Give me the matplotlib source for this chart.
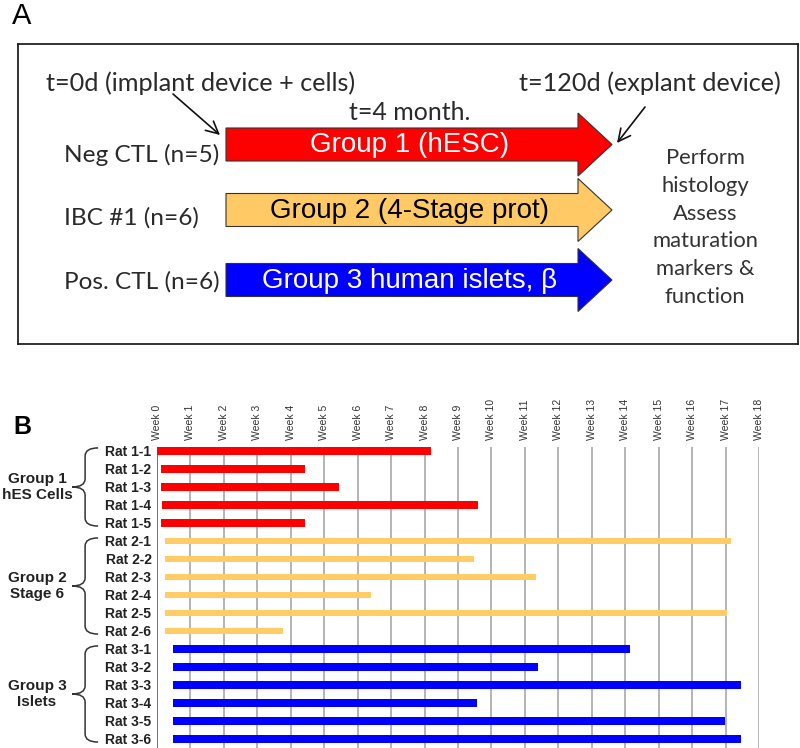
import numpy as np
import matplotlib
matplotlib.use("Agg")
import matplotlib.pyplot as plt
from matplotlib.patches import FancyArrow, PathPatch
from matplotlib.path import Path

plt.rcParams['font.family'] = ['Liberation Sans', 'DejaVu Sans']

# ---- panel A data ----
stage_labels = ['Neg CTL (n=5)', 'IBC #1 (n=6)', 'Pos. CTL (n=6)']
stage_groups = ['Group 1 (hESC)', 'Group 2 (4-Stage prot)', 'Group 3 human islets, \u03b2']
stage_colors = ['#FF0000', '#FFC966', '#0000FF']
stage_text_colors = ['white', 'black', 'white']
outcome_lines = ['Perform', 'histology', 'Assess', 'maturation', 'markers &', 'function']

# ---- panel B data ----
weeks = list(range(19))
week_labels = [f"Week {w}" for w in weeks]
rats = ['Rat 1-1', 'Rat 1-2', 'Rat 1-3', 'Rat 1-4', 'Rat 1-5',
        'Rat 2-1', 'Rat 2-2', 'Rat 2-3', 'Rat 2-4', 'Rat 2-5', 'Rat 2-6',
        'Rat 3-1', 'Rat 3-2', 'Rat 3-3', 'Rat 3-4', 'Rat 3-5', 'Rat 3-6']
g1_start = [0.0, 0.12, 0.12, 0.15, 0.12]
g1_end = [8.2, 4.42, 5.43, 9.6, 4.42]
g2_start = [0.23, 0.23, 0.23, 0.23, 0.23, 0.23]
g2_end = [17.15, 9.49, 11.33, 6.41, 17.05, 3.77]
g3_start = [0.47, 0.47, 0.47, 0.47, 0.47, 0.47]
g3_end = [14.15, 11.39, 17.45, 9.58, 16.99, 17.45]
group_names = ['Group 1\nhES Cells', 'Group 2\nStage 6', 'Group 3\nIslets']
group_colors = ['#FF0000', '#FFCC66', '#0000FF']

W, H = 800, 748
fig = plt.figure(figsize=(W / 100, H / 100), dpi=100)

# ---------------- panel A ----------------
ax_a = fig.add_axes([18 / W, 1 - 344 / H, 780 / W, 300 / H])
ax_a.set_xlim(18, 798)
ax_a.set_ylim(344, 44)
ax_a.set_xticks([])
ax_a.set_yticks([])
for s in ax_a.spines.values():
    s.set_linewidth(1.3)
    s.set_color('#222222')

calibri = 'Lato'
txt_color = '#2a2a2a'

arrow_y = [144.5, 210, 280]
label_y = [155, 218, 282]
for i in range(3):
    y = arrow_y[i]
    arr = FancyArrow(226, y, 386, 0, width=33, head_width=63, head_length=34,
                     length_includes_head=True, facecolor=stage_colors[i],
                     edgecolor='#333333', linewidth=0.8)
    ax_a.add_patch(arr)
    ax_a.text(410, y + 1, stage_groups[i], color=stage_text_colors[i],
              fontsize=20, ha='center', va='center')
    ax_a.text(64, label_y[i], stage_labels[i], color=txt_color, family=calibri,
              fontsize=17.6, ha='left', va='center')

ax_a.text(201, 83, 't=0d (implant device + cells)', family=calibri,
          color=txt_color, fontsize=18.2, ha='center', va='center')
ax_a.text(650, 83, 't=120d (explant device)', family=calibri,
          color=txt_color, fontsize=18.2, ha='center', va='center')
ax_a.text(410, 113, 't=4 month.', family=calibri,
          color=txt_color, fontsize=18, ha='center', va='center')

ax_a.annotate('', xy=(220, 135), xytext=(173, 94),
              arrowprops=dict(arrowstyle='->', lw=1.2, color='#111111',
                              mutation_scale=22, shrinkA=0, shrinkB=0))
ax_a.annotate('', xy=(617, 143), xytext=(645, 107),
              arrowprops=dict(arrowstyle='->', lw=1.2, color='#111111',
                              mutation_scale=22, shrinkA=0, shrinkB=0))

for k, line in enumerate(outcome_lines):
    ax_a.text(705, 158 + 27.8 * k, line, family=calibri, color='#333333',
              fontsize=15.8, ha='center', va='center')

fig.text(12 / W, 1 - 24 / H, 'A', fontsize=21, ha='left', va='baseline')
fig.text(13 / W, 1 - 434 / H, 'B', fontsize=18, fontweight='bold',
         ha='left', va='baseline')

# ---------------- panel B ----------------
ax_b = fig.add_axes([157 / W, 0, 602 / W, 301 / H])
ax_b.set_xlim(0, 18)
ax_b.set_ylim(16.5, -0.222)
for s in ax_b.spines.values():
    s.set_visible(False)

for w in weeks:
    ax_b.axvline(w, color='#555555' if w == 0 else '#A8A8A8',
                 lw=1.2, zorder=1)

ax_b.xaxis.tick_top()
ax_b.set_xticks(weeks)
ax_b.set_xticklabels(week_labels, rotation=90, fontsize=7.5, color='#333333')
ax_b.tick_params(axis='x', length=0, pad=5)

rows = np.arange(len(rats))
ax_b.set_yticks(rows)
ax_b.set_yticklabels(rats, fontsize=10, fontweight='bold', color='#222222')
ax_b.tick_params(axis='y', length=0, pad=4)

starts = [g1_start, g2_start, g3_start]
ends = [g1_end, g2_end, g3_end]
heights = [0.44, 0.36, 0.42]
offset = 0
for g in range(3):
    n = len(starts[g])
    r = rows[offset:offset + n]
    left = np.array(starts[g])
    right = np.array(ends[g])
    ax_b.barh(r, right - left, left=left, height=heights[g],
              color=group_colors[g], zorder=2)

    # brace + group label
    y0, y1 = r[0] - 0.17, r[-1] + 0.17
    ym = (y0 + y1) / 2
    xe, xv, xt = -1.76, -2.15, -2.54
    rr = 0.45
    verts = [(xe, y0), (xv, y0), (xv, y0 + rr),
             (xv, ym - rr), (xv, ym), (xt, ym),
             (xv, ym), (xv, ym + rr),
             (xv, y1 - rr), (xv, y1), (xe, y1)]
    codes = [Path.MOVETO, Path.CURVE3, Path.CURVE3,
             Path.LINETO, Path.CURVE3, Path.CURVE3,
             Path.CURVE3, Path.CURVE3,
             Path.LINETO, Path.CURVE3, Path.CURVE3]
    ax_b.add_patch(PathPatch(Path(verts, codes), fill=False, lw=1.1,
                             edgecolor='#333333', clip_on=False))
    ax_b.text(-3.59, r.mean(), group_names[g], fontsize=11,
              fontweight='bold', ha='center', va='center',
              color='#222222', linespacing=1.25, clip_on=False)
    offset += n

fig.savefig('out.png', dpi=100)
